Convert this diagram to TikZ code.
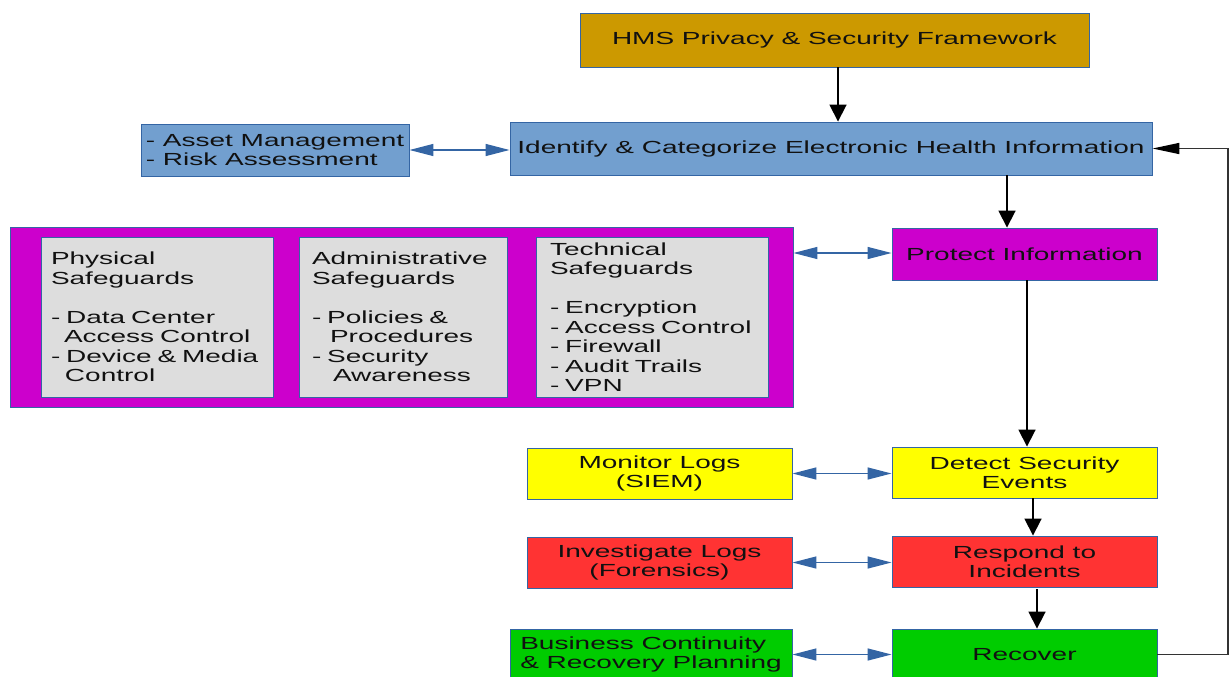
\documentclass[tikz,border=0pt]{standalone}
\usepackage{fontspec}
\setmainfont{Liberation Sans}[FakeStretch=1.6]
\usetikzlibrary{arrows.meta,calc}
\definecolor{bordc}{HTML}{3465A4}
\definecolor{goldc}{HTML}{CC9900}
\definecolor{bluec}{HTML}{729FCF}
\definecolor{magc}{HTML}{CC00CC}
\definecolor{grayc}{HTML}{DDDDDD}
\definecolor{yelc}{HTML}{FFFF00}
\definecolor{redc}{HTML}{FF3333}
\definecolor{grnc}{HTML}{00CC00}
\definecolor{txtc}{HTML}{111111}
\definecolor{fbc}{HTML}{333333}
\tikzset{
  box/.style={draw=bordc, line width=0.9pt, rectangle, inner sep=2pt, align=center,
    text=txtc, font=\fontsize{17.5}{19.5}\selectfont},
  safe/.style={box, fill=grayc, align=left, inner xsep=0pt, inner ysep=2pt},
  blk/.style={draw=black, line width=1.8pt, -{Triangle[length=17pt,width=17pt]}},
  blkh/.style={draw=fbc, line width=1.6pt, -{Triangle[length=27pt,width=11pt,fill=black,color=black]}},
  dbl/.style={draw=bordc, line width=1.4pt, {Triangle[length=24pt,width=12pt]}-{Triangle[length=24pt,width=12pt]}}
}
\begin{document}
\begin{tikzpicture}[x=1pt,y=-1pt]
\useasboundingbox (0,0) rectangle (1232,677);
% top
\node[box, fill=goldc, minimum width=509pt, minimum height=54pt] (hms) at (834.5,40) {HMS Privacy \& Security Framework};
\node[box, fill=bluec, minimum width=642pt, minimum height=53pt] (ident) at (831,148.5) {Identify \& Categorize Electronic Health Information};
\node[box, fill=bluec, align=left, minimum width=268pt, minimum height=52pt] (asset) at (275,150) {- Asset Management\\- Risk Assessment};
% protect
\node[box, fill=magc, minimum width=265pt, minimum height=52pt] (protect) at (1024.5,254) {Protect Information};
\node[box, fill=magc, minimum width=783pt, minimum height=180pt] (safeg) at (401.5,317) {};
\node[safe, minimum width=232pt, minimum height=160pt, text width=212pt] (phys) at (157,317)
  {Physical\\Safeguards\\[19.5pt]- Data Center\\\hspace*{13pt}Access Control\\- Device \& Media\\\hspace*{14pt}Control};
\node[safe, minimum width=208pt, minimum height=160pt, text width=182pt] (admin) at (403,317)
  {Administrative\\Safeguards\\[19.5pt]- Policies \&\\\hspace*{18pt}Procedures\\- Security\\\hspace*{21pt}Awareness};
\node[safe, minimum width=232pt, minimum height=160pt, text width=204pt] (tech) at (652,317)
  {Technical\\Safeguards\\[19.5pt]- Encryption\\- Access Control\\- Firewall\\- Audit Trails\\- VPN};
% detect / respond / recover
\node[box, fill=yelc, minimum width=265pt, minimum height=51pt] (detect) at (1024.5,472.5) {Detect Security\\Events};
\node[box, fill=yelc, minimum width=265pt, minimum height=51pt] (monitor) at (659.5,473.5) {Monitor Logs\\(SIEM)};
\node[box, fill=redc, minimum width=265pt, minimum height=51pt] (respond) at (1024.5,561.5) {Respond to\\Incidents};
\node[box, fill=redc, minimum width=265pt, minimum height=51pt] (invest) at (659.5,562.5) {Investigate Logs\\(Forensics)};
\node[box, fill=grnc, minimum width=265pt, minimum height=51pt] (recover) at (1024.5,654.5) {Recover};
\node[box, fill=grnc, align=left, minimum width=282pt, minimum height=51pt] (bcp) at (651,654.5) {Business Continuity\\\& Recovery Planning};
% coordinates for vertical connectors
\coordinate (c1) at (838,0);
\coordinate (c2) at (1007,0);
\coordinate (c3) at (1027,0);
\coordinate (c4) at (1033,0);
\coordinate (c5) at (1037,0);
\coordinate (fb) at (1228,0);
% black arrows
\draw[blk] (c1 |- hms.south) -- (c1 |- ident.north);
\draw[blk] (c2 |- ident.south) -- (c2 |- protect.north);
\draw[blk] (c3 |- protect.south) -- (c3 |- detect.north);
\draw[blk] (c4 |- detect.south) -- (c4 |- respond.north);
\draw[blk] ([yshift=-2pt]c5 |- respond.south) -- (c5 |- recover.north);
\draw[blkh] (recover.east) -| (fb |- ident.east) -- (ident.east);
% double arrows
\draw[dbl] (asset.east) -- (asset.east -| ident.west);
\draw[dbl] ([yshift=1pt]protect.west -| safeg.east) -- ([yshift=1pt]protect.west);
\draw[dbl] (monitor.east) -- (monitor.east -| detect.west);
\draw[dbl] (invest.east) -- (invest.east -| respond.west);
\draw[dbl] (bcp.east) -- (recover.west);
\end{tikzpicture}
\end{document}
